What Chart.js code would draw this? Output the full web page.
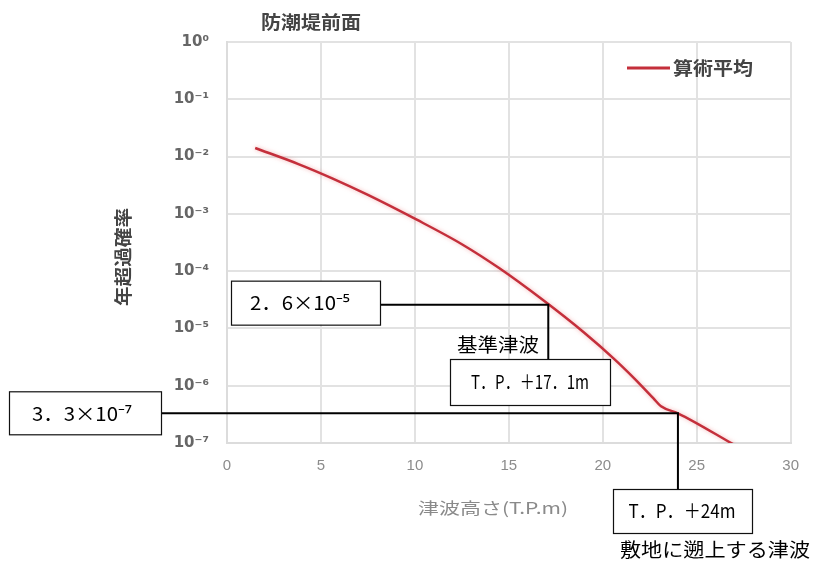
<!DOCTYPE html>
<html><head><meta charset="utf-8">
<script src="https://cdn.jsdelivr.net/npm/chart.js@4/dist/chart.umd.min.js"></script>
<style>html,body{margin:0;padding:0;background:#fff;}#wrap{width:813px;height:561px;}</style>
</head><body><div id="wrap"><canvas id="c" width="813" height="561"></canvas></div>
<script>
// ---- data ----
const chartTitle = '防潮堤前面';
const seriesLabel = '算術平均';
const xAxisTitle = '津波高さ(T.P.m)';
const yAxisTitle = '年超過確率';
const heights = [1.5, 3.8, 5.6, 7.5, 10.1, 12.5, 14.5, 16.8, 19.0, 20.6, 21.7, 22.7, 23.1, 24.0, 27.0];
const probabilities = [1.41e-2, 7.4e-3, 4.17e-3, 2.14e-3, 7.9e-4, 2.95e-4, 1.12e-4, 3.16e-5, 8.5e-6, 2.95e-6, 1.32e-6, 6.0e-7, 4.37e-7, 3.3e-7, 9.3e-8];
const xTicks = [0, 5, 10, 15, 20, 25, 30];
const yTickValues = [1, 1e-1, 1e-2, 1e-3, 1e-4, 1e-5, 1e-6, 1e-7];
const yTickLabels = ['10⁰', '10⁻¹', '10⁻²', '10⁻³', '10⁻⁴', '10⁻⁵', '10⁻⁶', '10⁻⁷'];
// annotation values
const refHeight = 17.1, refProb = 2.6e-5;
const refProbText = '2．6×10⁻⁵', refHeightText = 'T．P．＋17．1m', refName = '基準津波';
const siteHeight = 24, siteProb = 3.3e-7;
const siteProbText = '3．3×10⁻⁷', siteHeightText = 'T．P．＋24m', siteName = '敷地に遡上する津波';

const CJK = '"Noto Sans CJK JP", "Noto Sans", sans-serif';

function fitText(ctx, text, x, y, font, color, width, rot) {
  ctx.save();
  ctx.font = font; ctx.fillStyle = color;
  ctx.textAlign = 'center'; ctx.textBaseline = 'middle';
  const w = ctx.measureText(text).width;
  const k = width ? width / w : 1;
  ctx.translate(x, y);
  if (rot) ctx.rotate(rot);
  ctx.scale(k, 1);
  ctx.fillText(text, 0, 0);
  ctx.restore();
}
function box(ctx, l, t, r, b) {
  ctx.save();
  ctx.fillStyle = '#fff'; ctx.fillRect(l, t, r - l, b - t);
  ctx.strokeStyle = '#111'; ctx.lineWidth = 1.2;
  ctx.strokeRect(l + 0.5, t + 0.5, r - l, b - t);
  ctx.restore();
}

const glow = {
  id: 'glow',
  beforeDatasetDraw(chart) { const c = chart.ctx; c.save(); c.shadowColor = 'rgba(235,120,120,0.55)'; c.shadowBlur = 4; },
  afterDatasetDraw(chart) { chart.ctx.restore(); }
};

const extras = {
  id: 'extras',
  afterDraw(chart) {
    const ctx = chart.ctx, xs = chart.scales.x, ys = chart.scales.y;
    fitText(ctx, chartTitle, 311, 22, 'bold 18px ' + CJK, '#444', 100);
    fitText(ctx, xAxisTitle, 493, 508, '16px ' + CJK, '#8a8a8a', 150);
    fitText(ctx, yAxisTitle, 123, 257, 'bold 18px ' + CJK, '#444', 98, -Math.PI / 2);
    // legend
    const ds = chart.data.datasets[0];
    ctx.save(); ctx.strokeStyle = ds.borderColor; ctx.lineWidth = 3;
    ctx.beginPath(); ctx.moveTo(627, 68); ctx.lineTo(670, 68); ctx.stroke(); ctx.restore();
    fitText(ctx, ds.label, 713, 68, 'bold 18px ' + CJK, '#444', 80);

    const rx = xs.getPixelForValue(refHeight), ry = ys.getPixelForValue(refProb);
    const sx = xs.getPixelForValue(siteHeight), sy = ys.getPixelForValue(siteProb);
    ctx.save(); ctx.strokeStyle = '#000'; ctx.lineWidth = 2;
    ctx.beginPath();
    ctx.moveTo(380, ry); ctx.lineTo(rx, ry); ctx.lineTo(rx, 359);
    ctx.moveTo(161, sy); ctx.lineTo(sx, sy); ctx.lineTo(sx, 489);
    ctx.stroke(); ctx.restore();

    box(ctx, 231, ry - 24, 380, ry + 20);
    fitText(ctx, refProbText, 300, ry - 2, '19px ' + CJK, '#000', 100);
    fitText(ctx, refName, 498, 345, '19px ' + CJK, '#000', 82);
    box(ctx, 450, 359, 610, 405);
    fitText(ctx, refHeightText, 530, 382, '19px ' + CJK, '#000', 118);

    box(ctx, 9, sy - 22, 161, sy + 21);
    fitText(ctx, siteProbText, 82, sy, '19px ' + CJK, '#000', 100);
    box(ctx, 613, 489, 752, 533);
    fitText(ctx, siteHeightText, 682, 511, '19px ' + CJK, '#000', 107);
    fitText(ctx, siteName, 715, 550, '19px ' + CJK, '#000', 190);
  }
};

new Chart(document.getElementById('c'), {
  type: 'line',
  data: {
    datasets: [{
      label: seriesLabel,
      data: heights.map((h, i) => ({ x: h, y: probabilities[i] })),
      borderColor: '#c42f3b',
      borderWidth: 2.5,
      pointRadius: 0,
      fill: false,
      cubicInterpolationMode: 'monotone'
    }]
  },
  options: {
    responsive: false,
    animation: false,
    layout: { padding: { left: 0, right: 14, top: 42, bottom: 0 } },
    plugins: { legend: { display: false }, tooltip: { enabled: false }, title: { display: false } },
    scales: {
      x: {
        type: 'linear', min: 0, max: 30,
        afterBuildTicks: s => { s.ticks = xTicks.map(v => ({ value: v })); },
        afterFit: s => { s.height = 118; },
        ticks: { color: '#8c8c8c', font: { size: 15, family: 'Liberation Sans' }, padding: 14, maxRotation: 0, autoSkip: false },
        grid: { color: '#e2e2e2', lineWidth: 2, drawTicks: false },
        border: { color: '#dcdcdc', width: 2 }
      },
      y: {
        type: 'logarithmic', min: 1e-7, max: 1,
        afterBuildTicks: s => { s.ticks = yTickValues.map(v => ({ value: v, major: true })); },
        afterFit: s => { s.width = 227; },
        ticks: {
          color: '#666', font: { size: 15, family: 'DejaVu Sans', weight: 'bold' }, padding: 18, autoSkip: false,
          callback: (v) => { const i = yTickValues.findIndex(t => Math.abs(Math.log10(t) - Math.log10(v)) < 1e-6); return i >= 0 ? yTickLabels[i] : ''; }
        },
        grid: { color: '#e2e2e2', lineWidth: 2, drawTicks: false },
        border: { color: '#dcdcdc', width: 2 }
      }
    }
  },
  plugins: [glow, extras]
});
</script></body></html>
